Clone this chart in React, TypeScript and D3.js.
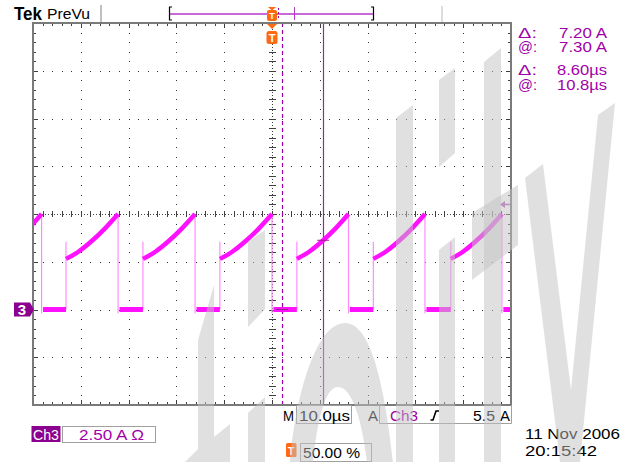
import * as d3 from "d3";
import React from "react";

// Tek PreVu screen, CH3 current probe, 10 us/div, 2.5 A/div
const timeDomain = [-50, 50]; // us
const ampDomain = [-5, 15]; // A (ch3 ground is two divisions below centre)

const riseTimes = [-59.0, -43.1, -27.0, -10.9, 5.2, 21.2, 37.4];
const fallTimes = [-48.2, -32.2, -16.1, 0.0, 16.0, 32.0, 48.1];
const rampFrac = [0, 0.25, 0.5, 0.75, 1];
const rampAmps = [2.65, 3.05, 3.6, 4.25, 5.0];
const lowAmps = 0;
const spikeAmps = 3.55;
const undershootAmps = -0.2;

const cursorTimes = [2.1, 10.7];
const triggerLevel = 5.5;

const readLabels = ["Δ:", "@:", "Δ:", "@:"];
const readValues = ["7.20 A", "7.30 A", "8.60µs", "10.8µs"];

const FONT = "'Liberation Sans', Arial, sans-serif";
const PURPLE = "#a000a8";
const ORANGE = "#ff6a10";

// light grey watermark shapes drawn over the screen
const watermark = [
  "M198,340 L214,285 L214,437 L230,424 L230,462 L185,462 L198,449 Z",
  "M248,242 L265,230 L265,309 L248,327 Z",
  "M248,413 L265,397 L265,462 L248,462 Z",
  "M290,462 C295,400 315,323 345,323 C372,323 385,390 393,462 Z M313,462 C318,415 326,387 338,387 C352,387 362,420 367,462 Z",
  "M396,118 L413,105 L413,462 L396,462 Z",
  "M439,80 L455,68 L455,153 L439,167 Z",
  "M439,250 L455,237 L455,462 L439,462 Z",
  "M484,62 L501,48 L501,462 L484,462 Z",
  "M472,213 L518,185 L518,245 L472,280 Z",
  "M525,178 L543,164 L571,390 L598,115 L615,103 L580,462 L560,462 Z",
];

function Txt(props: any) {
  const { x, y, len, size = 14, fill = "#000", weight = "normal", anchor, children } = props;
  return (
    <text
      x={x}
      y={y}
      fontFamily={FONT}
      fontSize={size}
      fontWeight={weight}
      fill={fill}
      textAnchor={anchor}
      textLength={len}
      lengthAdjust={len ? "spacingAndGlyphs" : undefined}
    >
      {children}
    </text>
  );
}

export default function App() {
  const x = d3.scaleLinear().domain(timeDomain).range([33, 511]);
  const y = d3.scaleLinear().domain(ampDomain).range([405, 23]);
  const [X0, X1] = x.range();
  const [Y1, Y0] = y.range();

  const majorX = d3.range(timeDomain[0], timeDomain[1] + 0.01, 10);
  const minorX = d3.range(timeDomain[0], timeDomain[1] + 0.01, 2);
  const majorY = d3.range(ampDomain[0], ampDomain[1] + 0.01, 2.5);
  const minorY = d3.range(ampDomain[0], ampDomain[1] + 0.01, 0.5);
  const cx = x(0);
  const cy = y(5);

  const dots: [number, number][] = [];
  majorX.slice(1, -1).forEach((t) => {
    if (t === 0) return;
    minorY.slice(1, -1).forEach((a) => dots.push([x(t), y(a)]));
  });
  majorY.slice(1, -1).forEach((a) => {
    if (a === 5) return;
    minorX.slice(1, -1).forEach((t) => dots.push([x(t), y(a)]));
  });

  const line = d3
    .line<[number, number]>()
    .x((d) => x(d[0]))
    .y((d) => y(d[1]));
  const rampShape = d3.scaleLinear().domain(rampFrac).range(rampAmps);
  const ramps = riseTimes.map((r, i) =>
    rampFrac.map((f, k) => [r + f * (fallTimes[i] - r), rampAmps[k]] as [number, number])
  );
  const lows = fallTimes.map(
    (f, i) =>
      [
        [f + 0.3, lowAmps],
        [riseTimes[i + 1] ?? 53, lowAmps],
      ] as [number, number][]
  );
  const falls = fallTimes.map(
    (f) =>
      [
        [f, rampAmps[rampAmps.length - 1]],
        [f, undershootAmps],
      ] as [number, number][]
  );
  const rises = riseTimes.slice(1).map(
    (r) =>
      [
        [r, lowAmps],
        [r, spikeAmps],
      ] as [number, number][]
  );

  const valueAt = (t: number) => {
    for (let i = 0; i < riseTimes.length; i++) {
      if (t >= riseTimes[i] && t <= fallTimes[i]) {
        return rampShape((t - riseTimes[i]) / (fallTimes[i] - riseTimes[i]));
      }
    }
    return lowAmps;
  };

  const rowY = [37.5, 52, 75, 89.5];

  return (
    <svg
      width={634}
      height={462}
      style={{ position: "absolute", left: 0, top: 0, background: "#fff" }}
    >
      <defs>
        <clipPath id="grat">
          <rect x={X0} y={Y0} width={X1 - X0} height={Y1 - Y0} />
        </clipPath>
      </defs>
      <rect x={0} y={0} width={634} height={462} fill="#fff" />

      {/* header */}
      <Txt x={14} y={20} size={18} weight="bold" len={28}>Tek</Txt>
      <Txt x={47} y={19} size={14} len={43}>PreVu</Txt>
      <line x1={101} x2={101} y1={5} y2={22} stroke="#c0c0c0" strokeWidth={2} />
      <line x1={442} x2={442} y1={6} y2={22} stroke="#d0d0d0" strokeWidth={1.5} />
      <line x1={170} x2={373} y1={14} y2={14} stroke="#c868d8" strokeWidth={2} />
      <path d="M172,7 h-2.5 v13 h2.5" fill="none" stroke="#000" strokeWidth={1.2} />
      <path d="M371,7 h2.5 v13 h-2.5" fill="none" stroke="#000" strokeWidth={1.2} />
      <line x1={294.5} x2={294.5} y1={7} y2={20} stroke="#b040c0" strokeWidth={1} />
      <line x1={278.5} x2={278.5} y1={8} y2={20} stroke={PURPLE} strokeWidth={1} strokeDasharray="2,2" />
      <path d="M268,7 L276,7 L272,10.5 Z" fill={ORANGE} />
      <rect x={267} y={10} width={10} height={11} rx={2} fill={ORANGE} />
      <Txt x={272} y={19} size={9} fill="#fff" weight="bold" anchor="middle">T</Txt>

      {/* graticule dots */}
      <g fill="#303030" shapeRendering="crispEdges">
        {dots.map(([px, py], i) => (
          <rect key={i} x={Math.round(px)} y={Math.round(py)} width={1} height={1} />
        ))}
      </g>

      {/* centre axes */}
      <g stroke="#404040" strokeWidth={1} shapeRendering="crispEdges">
        <line x1={X0} x2={X1} y1={Math.round(cy) + 0.5} y2={Math.round(cy) + 0.5} strokeDasharray="1,2" />
        <line x1={Math.round(cx) + 0.5} x2={Math.round(cx) + 0.5} y1={Y0} y2={Y1} strokeDasharray="1,2" />
        {minorX.map((t, i) => (
          <line key={"cx" + i} x1={Math.round(x(t)) + 0.5} x2={Math.round(x(t)) + 0.5} y1={cy - 3} y2={cy + 3} />
        ))}
        {minorY.map((a, i) => (
          <line key={"cy" + i} x1={cx - 3} x2={cx + 4} y1={Math.round(y(a)) + 0.5} y2={Math.round(y(a)) + 0.5} />
        ))}
      </g>

      {/* border ticks */}
      <g stroke="#404040" strokeWidth={1} shapeRendering="crispEdges">
        {minorX.map((t, i) => {
          const px = Math.round(x(t)) + 0.5;
          const l = i % 5 === 0 ? 5 : 3;
          return (
            <g key={"bx" + i}>
              <line x1={px} x2={px} y1={Y0} y2={Y0 + l} />
              <line x1={px} x2={px} y1={Y1} y2={Y1 - l} />
            </g>
          );
        })}
        {minorY.map((a, i) => {
          const py = Math.round(y(a)) + 0.5;
          const l = i % 5 === 0 ? 5 : 3;
          return (
            <g key={"by" + i}>
              <line x1={X0} x2={X0 + l} y1={py} y2={py} />
              <line x1={X1} x2={X1 - l} y1={py} y2={py} />
            </g>
          );
        })}
      </g>

      {/* cursors */}
      <line x1={Math.round(x(cursorTimes[0])) + 0.5} x2={Math.round(x(cursorTimes[0])) + 0.5} y1={Y0} y2={Y1} stroke={PURPLE} strokeWidth={1.2} strokeDasharray="4,3" />
      <line x1={Math.round(x(cursorTimes[1])) + 0.5} x2={Math.round(x(cursorTimes[1])) + 0.5} y1={Y0} y2={Y1} stroke="#a020a8" strokeWidth={1.2} />

      {/* waveform */}
      <g clipPath="url(#grat)" fill="none">
        {falls.concat(rises).map((d, i) => (
          <path key={"e" + i} d={line(d) || ""} stroke="#ff8cff" strokeWidth={1.2} />
        ))}
        {lows.map((d, i) => (
          <path key={"l" + i} d={line(d) || ""} stroke="#ff10ff" strokeWidth={5} />
        ))}
        {ramps.map((d, i) => (
          <path key={"r" + i} d={line.curve(d3.curveMonotoneX)(d) || ""} stroke="#ff10ff" strokeWidth={4.5} />
        ))}
        {cursorTimes.map((t, i) => (
          <line key={"cm" + i} x1={x(t) - 6} x2={x(t) + 6} y1={y(valueAt(t))} y2={y(valueAt(t))} stroke="#9a2090" strokeWidth={1} />
        ))}
      </g>

      {/* graticule frame */}
      <rect x={X0} y={Y0} width={X1 - X0} height={Y1 - Y0} fill="none" stroke="#7a7a7a" strokeWidth={2} />

      {/* trigger marker top */}
      <path d={`M${cx - 5},24 L${cx + 5},24 L${cx},29 Z`} fill={ORANGE} />
      <rect x={cx - 5.5} y={31} width={11} height={13} rx={2.5} fill={ORANGE} />
      <Txt x={cx} y={42} size={11} fill="#fff" weight="bold" anchor="middle">T</Txt>

      {/* ch3 ground marker */}
      <path d={`M14,${y(0) - 7} H30 L34,${y(0)} L30,${y(0) + 7} H14 Z`} fill="#8c0090" />
      <Txt x={22} y={y(0) + 5.5} size={15} fill="#fff" weight="bold" anchor="middle">3</Txt>

      {/* trigger level arrow */}
      <path d={`M500,${y(triggerLevel)} L505,${y(triggerLevel) - 3.5} L505,${y(triggerLevel) + 3.5} Z`} fill="#b060b8" />
      <line x1={504} x2={510} y1={y(triggerLevel)} y2={y(triggerLevel)} stroke="#b060b8" strokeWidth={1.5} />

      {/* cursor readouts */}
      {readLabels.map((l, i) => (
        <g key={"rd" + i}>
          <Txt x={518} y={rowY[i]} fill={PURPLE} len={19}>{l}</Txt>
          <Txt x={607} y={rowY[i]} fill={PURPLE} anchor="end" len={readValues[i].includes("A") ? 48 : 50}>{readValues[i]}</Txt>
        </g>
      ))}

      {/* bottom readouts */}
      <Txt x={283} y={421} len={11}>M</Txt>
      <rect x={296.5} y={405.5} width={55} height={18} fill="none" stroke="#a0a0a0" strokeWidth={1} />
      <Txt x={299} y={421} len={51}>10.0µs</Txt>
      <Txt x={368} y={421} len={10}>A</Txt>
      <path d="M379.5,405 V423.5 H511.5 V405" fill="none" stroke="#a0a0a0" strokeWidth={1} />
      <Txt x={390} y={421} fill={PURPLE} len={28}>Ch3</Txt>
      <path d="M430.5,420 h2.5 l3,-9 h3" fill="none" stroke="#000" strokeWidth={1.6} />
      <Txt x={473} y={421} len={22}>5.5</Txt>
      <Txt x={500} y={421} len={10}>A</Txt>

      <rect x={31.5} y={426} width={29} height={16} fill="#8c0090" />
      <Txt x={33} y={439.5} fill="#fff" len={26}>Ch3</Txt>
      <rect x={62.5} y={426.5} width={93} height={16} fill="#fff" stroke="#a0a0a0" strokeWidth={1} />
      <Txt x={79} y={439.5} fill={PURPLE} len={65}>2.50 A Ω</Txt>

      <rect x={286} y={443} width={10.5} height={14} rx={1.5} fill={ORANGE} />
      <Txt x={291.2} y={454.5} size={11} fill="#fff" weight="bold" anchor="middle">T</Txt>
      <rect x={300.5} y={443.5} width={71} height={18} fill="#fff" stroke="#a0a0a0" strokeWidth={1} />
      <Txt x={303} y={458} len={57}>50.00 %</Txt>

      <Txt x={525} y={439} len={95}>11 Nov 2006</Txt>
      <Txt x={525} y={456} len={72}>20:15:42</Txt>

      {/* watermark */}
      <g fill="#c2c2c2" fillOpacity={0.5} fillRule="evenodd">
        {watermark.map((d, i) => (
          <path key={"w" + i} d={d} />
        ))}
      </g>
    </svg>
  );
}
